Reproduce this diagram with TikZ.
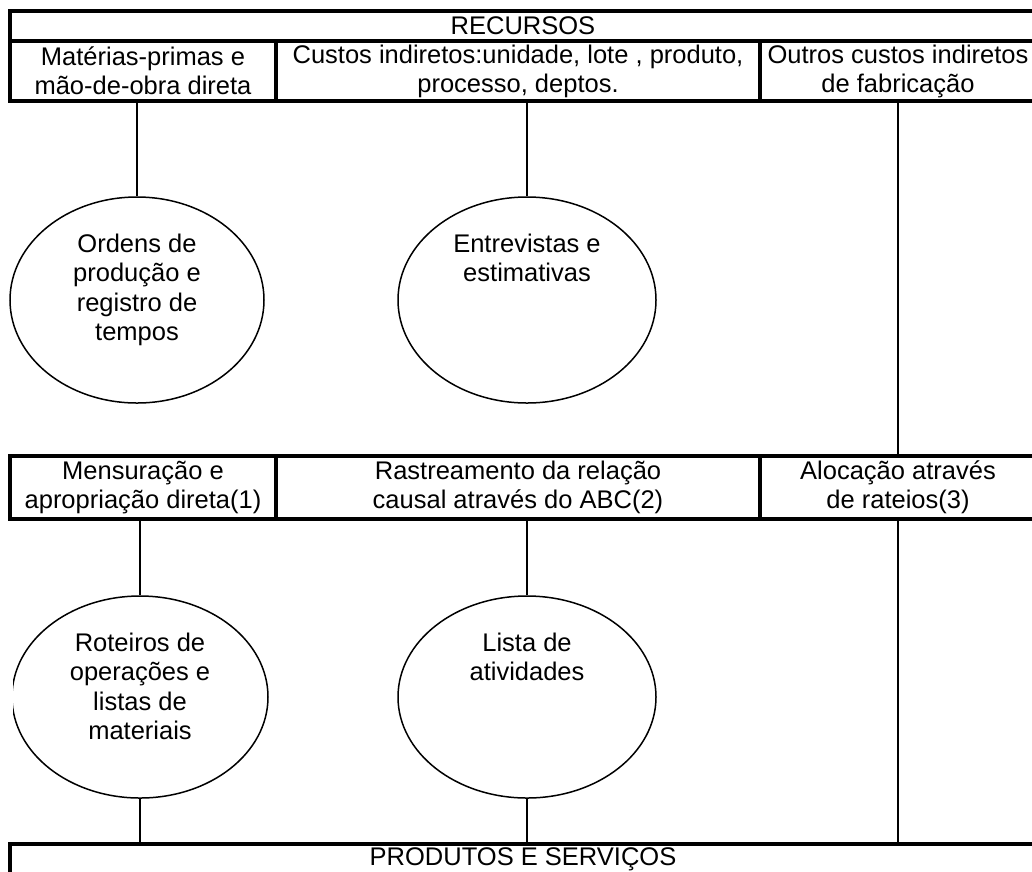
\documentclass[tikz,border=0pt]{standalone}
\usepackage{fontspec}
\setmainfont{Liberation Sans}
\usetikzlibrary{shapes.geometric}

\begin{document}
\begin{tikzpicture}[x=1pt, y=-1pt, line width=1.5pt,
    cell/.style={draw, line width=4pt, inner sep=0pt, align=center,
      font=\fontsize{25.5}{29}\selectfont},
    oval/.style={draw, ellipse, inner sep=0pt, minimum height=206pt},
    txt/.style={anchor=north, align=center, inner sep=0pt,
      font=\fontsize{25.5}{29.5}\selectfont}]
          \useasboundingbox (0,0) rectangle (1032,871);

          \node[cell, minimum width=1026pt, minimum height=30pt] (rec) at (523,26) {RECURSOS};
          \node[cell, minimum width=266pt, minimum height=60pt] (mat) at (143,71) {Matérias-primas e\\mão-de-obra direta};
          \node[cell, minimum width=484pt, minimum height=60pt] (cus) at (518,71) {Custos indiretos:unidade, lote , produto,\\processo, deptos.};
          \node[cell, minimum width=276pt, minimum height=60pt] (out) at (898,71) {Outros custos indiretos\\de fabricação};

          \node[oval, minimum width=254pt] (ord) at (137,300) {};
          \node[oval, minimum width=258pt] (ent) at (527,300) {};
          \node[txt] (ordt) at ([yshift=-37pt]ord.north) {Ordens de\\produção e\\registro de\\tempos};
          \node[txt] (entt) at ([yshift=-37pt]ent.north) {Entrevistas e\\estimativas};

          \node[cell, minimum width=266pt, minimum height=63pt] (men) at (143,487.5) {Mensuração e\\apropriação direta(1)};
          \node[cell, minimum width=484pt, minimum height=63pt] (ras) at (518,487.5) {Rastreamento da relação\\causal através do ABC(2)};
          \node[cell, minimum width=276pt, minimum height=63pt] (alo) at (898,487.5) {Alocação através\\de rateios(3)};

          \begin{scope}
            \clip (13,560) rectangle (300,840);
            \node[oval, minimum width=256pt, minimum height=202pt] (rot) at (140,697) {};
          \end{scope}
          \node[oval, minimum width=258pt, minimum height=202pt] (lis) at (527,697) {};
          \node[txt] (rott) at ([yshift=-37pt]rot.north) {Roteiros de\\operações e\\listas de\\materiais};
          \node[txt] (list) at ([yshift=-37pt]lis.north) {Lista de\\atividades};

          \node[cell, minimum width=1026pt, minimum height=30pt] (prod) at (523,859) {PRODUTOS E SERVIÇOS};

          \draw (ord.north |- mat.south) edge (ord.north)
                (ent.north |- cus.south) edge (ent.north)
                (out.south) edge (alo.north);
          \draw (rot.north |- men.south) edge (rot.north)
                (lis.north |- ras.south) edge (lis.north)
                (rot.south) edge (rot.south |- prod.north)
                (lis.south) edge (lis.south |- prod.north)
                (alo.south) edge (alo.south |- prod.north);
        \end{tikzpicture}
\end{document}
